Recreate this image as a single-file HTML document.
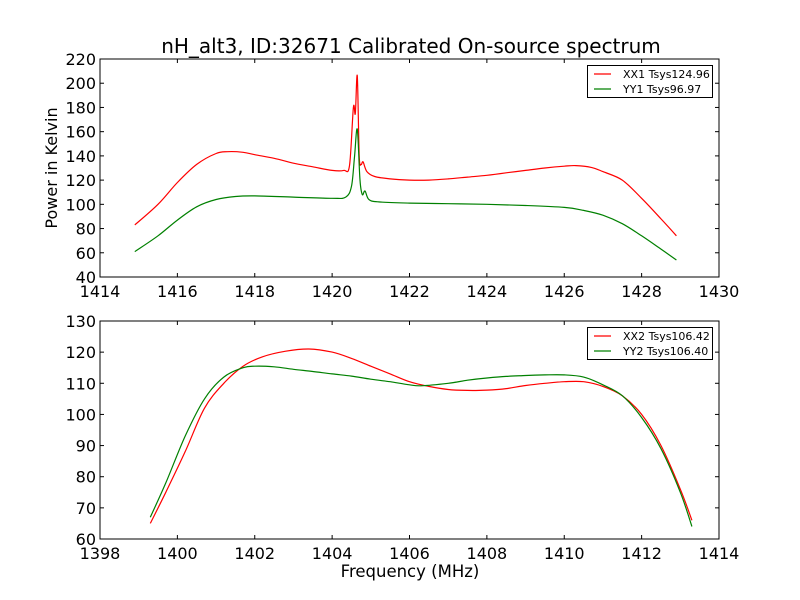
<!DOCTYPE html>
<html><head><meta charset="utf-8"><style>
body{margin:0;background:#fff;}
svg{display:block;font-family:"DejaVu Sans","Liberation Sans",sans-serif;}
</style></head><body>
<svg id="chart" width="800" height="600" xmlns="http://www.w3.org/2000/svg">
<rect width="800" height="600" fill="#fff"/>
<text x="411" y="53" font-size="20" text-anchor="middle">nH_alt3, ID:32671 Calibrated On-source spectrum</text>
<text x="410" y="577" font-size="16.5" text-anchor="middle">Frequency (MHz)</text>
<text transform="translate(57,168) rotate(-90)" font-size="16" text-anchor="middle">Power in Kelvin</text>
</svg>
<script>
const topTicksX=[1414,1416,1418,1420,1422,1424,1426,1428,1430];
const topTicksY=[40,60,80,100,120,140,160,180,200,220];
const botTicksX=[1398,1400,1402,1404,1406,1408,1410,1412,1414];
const botTicksY=[60,70,80,90,100,110,120,130];
const xx1F=[1414.9,1415.5,1416,1416.5,1417,1417.3,1417.7,1418,1418.5,1419,1419.5,1420,1420.3,1420.45,1420.55,1420.6,1420.65,1420.7,1420.75,1420.8,1420.9,1421.1,1421.5,1422,1422.5,1423,1423.5,1424,1424.5,1425,1425.5,1426,1426.3,1426.7,1427,1427.5,1428,1428.5,1428.9];
const xx1V=[83,100,118,133,142,143.5,143,141,138,134,131,128,128,132,180,175,206,140,133,135,127,123,121,120,120,121,122.5,124,126,128,130,131.5,132,130.5,127,120,105,88,74];
const yy1F=[1414.9,1415.5,1416,1416.5,1417,1417.5,1418,1419,1420,1420.35,1420.5,1420.58,1420.65,1420.72,1420.78,1420.85,1420.95,1421.2,1422,1423,1424,1425,1426,1426.5,1427,1427.5,1428,1428.5,1428.9];
const yy1V=[61,74,87,98,104,106.5,107,106,105,106,115,140,162,120,108,111,104,102,101,100.5,100,99,97.5,95,91,84,74,63,54];
const xx2F=[1399.3,1399.7,1400.2,1400.7,1401.2,1401.7,1402.2,1402.8,1403.4,1404,1404.5,1405,1405.5,1406,1406.5,1407,1407.5,1408,1408.5,1409,1409.5,1410,1410.5,1411,1411.5,1412,1412.5,1413,1413.3];
const xx2V=[65,75,88,102,110,115.5,118.5,120.3,121,120,118,115.5,113,110.5,109,108,107.7,107.8,108.3,109.3,110,110.5,110.5,109,106,100,90,76,66];
const yy2F=[1399.3,1399.7,1400.2,1400.7,1401.2,1401.7,1402,1402.5,1403,1403.5,1404,1404.5,1405,1405.5,1406,1406.3,1407,1407.5,1408,1408.5,1409,1409.5,1410,1410.5,1411,1411.5,1412,1412.5,1413,1413.3];
const yy2V=[67,78,93,105,112,115,115.5,115.3,114.5,113.8,113,112.3,111.3,110.5,109.5,109.2,110,111,111.7,112.2,112.5,112.7,112.7,112,109.5,106,99,89,75,64];

const NS="http://www.w3.org/2000/svg";
const svg=document.getElementById('chart');
function mk(tag,attrs,parent){const e=document.createElementNS(NS,tag);for(const k in attrs)e.setAttribute(k,attrs[k]);(parent||svg).appendChild(e);return e;}
function smooth(pts){
  let d='M'+pts[0][0].toFixed(1)+','+pts[0][1].toFixed(1);
  for(let i=0;i<pts.length-1;i++){
    const p0=pts[Math.max(0,i-1)],p1=pts[i],p2=pts[i+1],p3=pts[Math.min(pts.length-1,i+2)];
    const c1x=p1[0]+(p2[0]-p0[0])/6,c1y=p1[1]+(p2[1]-p0[1])/6;
    const c2x=p2[0]-(p3[0]-p1[0])/6,c2y=p2[1]-(p3[1]-p1[1])/6;
    d+='C'+c1x.toFixed(1)+','+c1y.toFixed(1)+' '+c2x.toFixed(1)+','+c2y.toFixed(1)+' '+p2[0].toFixed(1)+','+p2[1].toFixed(1);
  }
  return d;
}
function panel(name,top,bottom,xmin,xmax,ymin,ymax,xt,yt,series,legend){
  const L=100,R=719;
  const sx=f=>L+(f-xmin)/(xmax-xmin)*(R-L);
  const sy=v=>bottom-(v-ymin)/(ymax-ymin)*(bottom-top);
  const g=mk('g',{});
  
  
  series.forEach(s=>{
    const pts=s.f.map((f,i)=>[sx(f),sy(s.v[i])]);
    const p=mk('path',{d:smooth(pts),fill:'none',stroke:s.c,'stroke-width':1.2,'stroke-linejoin':'round'},g);
    
    
  });
  xt.forEach(t=>{
    const x=sx(t);
    mk('line',{x1:x,x2:x,y1:bottom,y2:bottom-4,stroke:'#000'},g);
    mk('line',{x1:x,x2:x,y1:top,y2:top+4,stroke:'#000'},g);
    const tx=mk('text',{x:x,y:bottom+20,'font-size':16,'text-anchor':'middle'},g);
    tx.textContent=t;
    
    
  });
  yt.forEach(t=>{
    const y=sy(t);
    mk('line',{x1:L,x2:L+4,y1:y,y2:y,stroke:'#000'},g);
    mk('line',{x1:R,x2:R-4,y1:y,y2:y,stroke:'#000'},g);
    const tx=mk('text',{x:L-4,y:y+6,'font-size':16,'text-anchor':'end'},g);
    tx.textContent=t;
    
    
  });
  mk('rect',{x:L,y:top,width:R-L,height:bottom-top,fill:'none',stroke:'#000','stroke-width':1},g);
  const lg=mk('g',{},g);
  
  
  mk('rect',{x:587.5,y:top+6.5,width:125,height:32,fill:'#fff',stroke:'#000'},lg);
  legend.forEach((l,i)=>{
    const y=top+15+i*15;
    mk('line',{x1:594,x2:611,y1:y,y2:y,stroke:l.c,'stroke-width':1.2},lg);
    const t=mk('text',{x:623,y:y+4,'font-size':11},lg);
    t.textContent=l.t;
    
    
  });
}
panel('top-panel',59,277,1414,1430,40,220,topTicksX,topTicksY,
  [{f:xx1F,v:xx1V,c:'#ff0000',n:'xx1'},{f:yy1F,v:yy1V,c:'#008000',n:'yy1'}],
  [{t:'XX1 Tsys124.96',c:'#ff0000'},{t:'YY1 Tsys96.97',c:'#008000'}]);
panel('bottom-panel',321,539,1398,1414,60,130,botTicksX,botTicksY,
  [{f:xx2F,v:xx2V,c:'#ff0000',n:'xx2'},{f:yy2F,v:yy2V,c:'#008000',n:'yy2'}],
  [{t:'XX2 Tsys106.42',c:'#ff0000'},{t:'YY2 Tsys106.40',c:'#008000'}]);
</script>
</body></html>
